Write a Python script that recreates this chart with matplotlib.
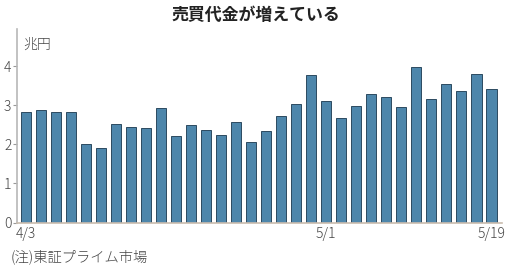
import numpy as np
import matplotlib.pyplot as plt

plt.rcParams['font.family'] = ['Noto Sans CJK JP', 'DejaVu Sans']

# 東証プライム市場 売買代金 (兆円), 2023/4/3 - 5/19 の営業日
dates = ["4/3", "4/4", "4/5", "4/6", "4/7",
         "4/10", "4/11", "4/12", "4/13", "4/14",
         "4/17", "4/18", "4/19", "4/20", "4/21",
         "4/24", "4/25", "4/26", "4/27", "4/28",
         "5/1", "5/2",
         "5/8", "5/9", "5/10", "5/11", "5/12",
         "5/15", "5/16", "5/17", "5/18", "5/19"]
values = [2.83, 2.89, 2.82, 2.82, 2.00,
          1.91, 2.53, 2.44, 2.41, 2.94,
          2.22, 2.49, 2.37, 2.24, 2.57,
          2.05, 2.35, 2.73, 3.02, 3.78,
          3.12, 2.67,
          2.99, 3.29, 3.20, 2.96, 3.97,
          3.17, 3.55, 3.37, 3.80, 3.42]
shown_labels = ["4/3", "5/1", "5/19"]
yticks = [0, 1, 2, 3, 4]

W, H = 511, 269
fig = plt.figure(figsize=(W / 100, H / 100), dpi=100)
ax = fig.add_axes([17 / W, (H - 222.5) / H, (502 - 17) / W, (222.5 - 29) / H])

x = np.arange(len(values))
ax.bar(x, values, width=0.67, color='#4d86ab', edgecolor='#2c4a60', linewidth=0.7)

ax.set_xlim(-0.6, len(values) - 0.3)
ax.set_ylim(0, 4.95)

ax.set_yticks(yticks)
ax.set_yticklabels([str(v) for v in yticks])
pos = [dates.index(d) for d in shown_labels]
ax.set_xticks(pos)
ax.set_xticklabels(shown_labels)

for s in ['top', 'right']:
    ax.spines[s].set_visible(False)
ax.spines['left'].set_color('#b8b8b8')
ax.spines['left'].set_linewidth(1.2)
ax.spines['bottom'].set_color('#c9bcae')
ax.spines['bottom'].set_linewidth(1.2)

ax.tick_params(axis='y', length=3, width=0.8, color='#999999', pad=1,
               labelsize=10, labelcolor='#444444')
ax.tick_params(axis='x', length=0, pad=3, labelsize=10, labelcolor='#444444')
for lab in ax.get_xticklabels() + ax.get_yticklabels():
    lab.set_fontweight('light')

fig.text(23 / W, 1 - 45 / H, "兆円", fontsize=10, color='#444444',
         fontweight='light', va='center', ha='left')
fig.text(256 / W, 1 - 15 / H, "売買代金が増えている", fontsize=12.2,
         fontweight='bold', color='#222222', ha='center', va='center')
fig.text(11 / W, 1 - 257 / H, "(注)東証プライム市場", fontsize=10.3,
         color='#444444', fontweight='light', ha='left', va='center')

fig.savefig("out.png", dpi=100)
